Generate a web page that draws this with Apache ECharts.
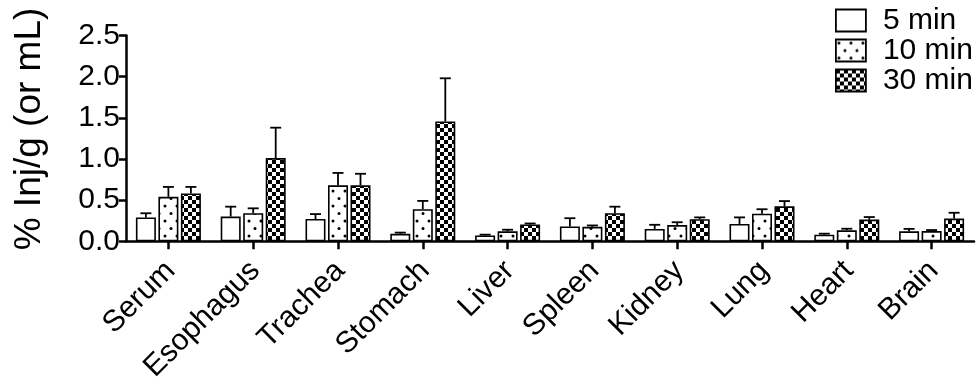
<!DOCTYPE html>
<html>
<head>
<meta charset="utf-8">
<script src="https://cdn.jsdelivr.net/npm/echarts@6/dist/echarts.min.js"></script>
<style>
html,body{margin:0;padding:0;background:#fff;}
#chart{width:977px;height:385px;}
</style>
</head>
<body>
<div id="chart"></div>
<script>
// ---- data ----
const categories = ['Serum','Esophagus','Trachea','Stomach','Liver','Spleen','Kidney','Lung','Heart','Brain'];
const seriesNames = ['5 min','10 min','30 min'];
const mean5  = [0.29, 0.30, 0.27, 0.09, 0.07, 0.18, 0.15, 0.21, 0.08, 0.12];
const err5   = [0.05, 0.12, 0.06, 0.015, 0.01, 0.10, 0.05, 0.08, 0.012, 0.03];
const mean10 = [0.54, 0.34, 0.68, 0.39, 0.12, 0.175, 0.196, 0.334, 0.133, 0.124];
const err10  = [0.12, 0.06, 0.15, 0.10, 0.02, 0.017, 0.035, 0.055, 0.019, 0.012];
const mean30 = [0.58, 1.01, 0.68, 1.455, 0.204, 0.341, 0.267, 0.424, 0.263, 0.275];
const err30  = [0.08, 0.37, 0.14, 0.525, 0.012, 0.079, 0.023, 0.064, 0.031, 0.071];
const yMin = 0, yMax = 2.5, yInterval = 0.5;
const yTitle = '% Inj/g (or mL)';

// ---- patterns ----
function dotPattern(){
  const c = document.createElement('canvas'); c.width = 12; c.height = 15;
  const g = c.getContext('2d');
  g.fillStyle = '#fff'; g.fillRect(0,0,12,15);
  g.fillStyle = '#000';
  g.beginPath(); g.arc(3,3.5,1.5,0,Math.PI*2); g.fill();
  g.beginPath(); g.arc(9,11,1.5,0,Math.PI*2); g.fill();
  return c;
}
function checkPattern(){
  const c = document.createElement('canvas'); c.width = 8; c.height = 8;
  const g = c.getContext('2d');
  g.fillStyle = '#fff'; g.fillRect(0,0,8,8);
  g.fillStyle = '#000'; g.fillRect(0,0,4,4); g.fillRect(4,4,4,4);
  return c;
}
const fills = ['#ffffff', {image: dotPattern(), repeat: 'repeat'}, {image: checkPattern(), repeat: 'repeat'}];
const means = [mean5, mean10, mean30];
const errs = [err5, err10, err30];

const FONT = 'Liberation Sans, Arial, sans-serif';
const BAR_W = 20, BAR_STEP = 22.5;

const series = [];
seriesNames.forEach((name, i) => {
  series.push({
    name: name, type: 'bar', barWidth: BAR_W, barGap: '12.5%',
    data: means[i],
    itemStyle: {color: fills[i], borderColor: '#000', borderWidth: 1.6},
    z: 2
  });
});
seriesNames.forEach((name, i) => {
  series.push({
    type: 'custom', z: 3,
    data: categories.map((c, k) => [k, means[i][k], errs[i][k]]),
    renderItem: function(params, api){
      const base = api.coord([api.value(0), api.value(1)]);
      const top = api.coord([api.value(0), api.value(1) + api.value(2)]);
      const x = base[0] + (i - 1) * BAR_STEP;
      const st = {stroke: '#000', lineWidth: 1.8};
      return {type: 'group', children: [
        {type: 'line', shape: {x1: x, y1: base[1], x2: x, y2: top[1]}, style: st},
        {type: 'line', shape: {x1: x - 5.5, y1: top[1], x2: x + 5.5, y2: top[1]}, style: st}
      ]};
    },
    silent: true
  });
});

const legendTops = [5.5, 35.5, 65.5];
const legends = seriesNames.map((name, i) => ({
  data: [name], orient: 'vertical', left: 835, top: legendTops[i], padding: 0,
  icon: 'rect', itemWidth: 30, itemHeight: 22,
  textStyle: {fontFamily: FONT, fontSize: 30, color: '#000', padding: [0,0,0,12]},
  itemStyle: {borderColor: '#000', borderWidth: 1.8}
}));

const chart = echarts.init(document.getElementById('chart'), null, {renderer: 'canvas'});
chart.setOption({
  animation: false,
  backgroundColor: '#fff',
  grid: {left: 126, top: 35.5, width: 848, bottom: 138.5, containLabel: false},
  legend: legends,
  xAxis: {
    type: 'category', data: categories,
    axisLine: {lineStyle: {color: '#000', width: 2.5}},
    axisTick: {show: true, alignWithLabel: true, length: 8, lineStyle: {color: '#000', width: 2.5}},
    axisLabel: {rotate: 45, interval: 0, margin: 27, padding: [0,-3,0,0], fontFamily: FONT, fontSize: 30, color: '#000'}
  },
  yAxis: {
    type: 'value', min: yMin, max: yMax, interval: yInterval,
    splitLine: {show: false},
    axisLine: {show: true, lineStyle: {color: '#000', width: 2.5}},
    axisTick: {show: true, length: 7, lineStyle: {color: '#000', width: 2.5}},
    axisLabel: {margin: 6, fontFamily: FONT, fontSize: 30, color: '#000', formatter: v => v.toFixed(1)}
  },
  graphic: [{
    type: 'text', x: 30, y: 129, rotation: Math.PI/2,
    style: {text: yTitle, fontFamily: FONT, fontSize: 37, fill: '#000', align: 'center', verticalAlign: 'middle'}
  }],
  series: series
});
</script>
</body>
</html>
